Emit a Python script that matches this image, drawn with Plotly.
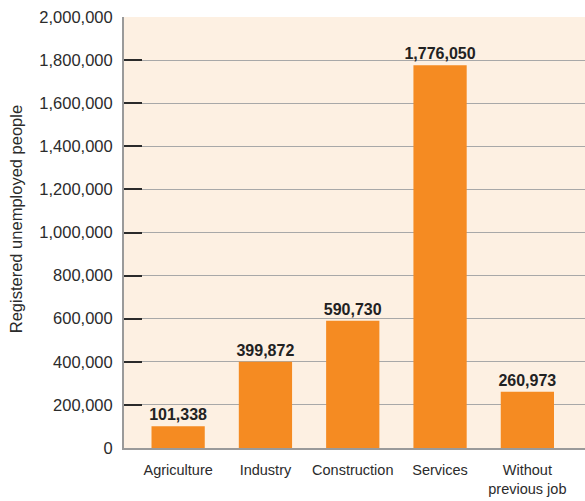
import plotly.graph_objects as go

# Registered unemployed people by sector of previous employment
categories = ["Agriculture", "Industry", "Construction", "Services", "Without<br>previous job"]
unemployed = [101338, 399872, 590730, 1776050, 260973]
value_labels = ["101,338", "399,872", "590,730", "1,776,050", "260,973"]
y_ticks = [0, 200000, 400000, 600000, 800000, 1000000, 1200000, 1400000, 1600000, 1800000, 2000000]
y_tick_labels = ["0", "200,000", "400,000", "600,000", "800,000", "1,000,000", "1,200,000",
                 "1,400,000", "1,600,000", "1,800,000", "2,000,000"]
y_title = "Registered unemployed people"

BAR = "#F58B22"
PANEL = "#FDF0E2"
TEXT = "#2b2b2b"
FONT = "Liberation Sans, Arial, sans-serif"

fig = go.Figure(
    go.Bar(
        x=list(range(len(categories))),
        y=unemployed,
        width=0.61,
        marker=dict(color=BAR, line=dict(width=0)),
        text=value_labels,
        textposition="outside",
        constraintext="none",
        cliponaxis=False,
        textfont=dict(family=FONT, size=16, color="#222222", weight="bold"),
    )
)

fig.update_layout(
    width=585,
    height=501,
    margin=dict(l=124, r=0, t=17, b=53),
    paper_bgcolor="white",
    plot_bgcolor=PANEL,
    showlegend=False,
    font=dict(family=FONT, color=TEXT),
)

fig.update_xaxes(
    tickmode="array",
    tickvals=list(range(len(categories))),
    ticktext=categories,
    range=[-0.62, 4.66],
    showgrid=False,
    showline=True,
    linecolor="#9a9a9a",
    linewidth=2,
    ticks="",
    ticklabelstandoff=8,
    tickfont=dict(family=FONT, size=14.5, color=TEXT),
)

fig.update_yaxes(
    range=[0, 2000000],
    tickmode="array",
    tickvals=y_ticks,
    ticktext=y_tick_labels,
    showgrid=True,
    gridcolor="#a8a8a8",
    gridwidth=1,
    showline=True,
    linecolor="#9a9a9a",
    linewidth=2,
    ticks="inside",
    ticklen=18,
    tickwidth=2,
    tickcolor="#2a2a2a",
    ticklabelstandoff=6,
    tickfont=dict(family=FONT, size=16.5, color=TEXT),
    zeroline=False,
)

# Axis title placed as a rotated annotation left of the tick labels
fig.add_annotation(
    text=y_title,
    xref="paper", yref="paper",
    x=-0.234, y=0.531,
    xanchor="center", yanchor="middle",
    textangle=-90,
    showarrow=False,
    font=dict(family=FONT, size=16.5, color=TEXT),
)

fig.write_html("out.html")
